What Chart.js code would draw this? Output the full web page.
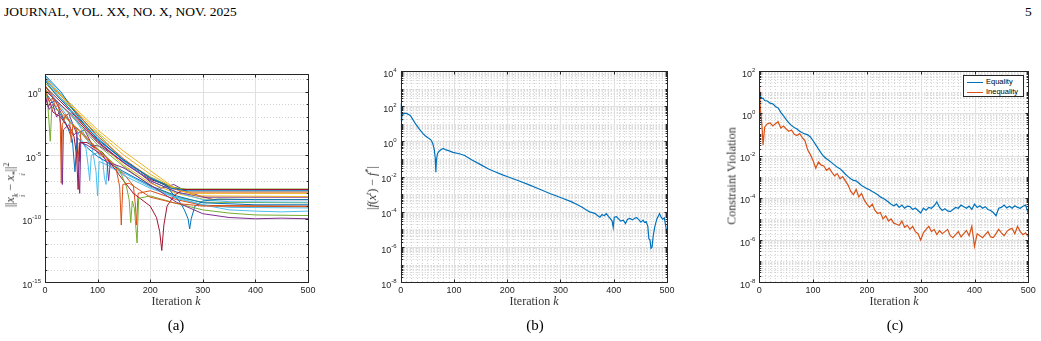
<!DOCTYPE html>
<html lang="en">
<head>
<meta charset="UTF-8">
<title>Convergence results</title>
<style>
    body, html {
        margin: 0;
        padding: 0;
        background: #fff;
    }

    #page {
        position: relative;
        width: 1041px;
        height: 341px;
        overflow: hidden;
        font-family: "Liberation Serif", "Times New Roman", serif;
        color: #000;
    }

    canvas {
        position: absolute;
        top: 60px;
    }

    .hdr {
        position: absolute;
        top: 4px;
        font-size: 13.5px;
        white-space: nowrap;
    }

    .ylab {
        position: absolute;
        white-space: nowrap;
        transform: translate(-50%, -50%) rotate(-90deg);
        font-size: 12px;
        font-weight: normal;
        color: #333;
    }

    .xlab {
        position: absolute;
        top: 294px;
        white-space: nowrap;
        transform: translateX(-50%);
        font-size: 12px;
        color: #333;
    }

    .cap {
        position: absolute;
        top: 317px;
        transform: translateX(-50%);
        font-size: 15px;
    }

    .ss {
        display: inline-flex;
        flex-direction: column;
        font-size: 8px;
        line-height: 7px;
        vertical-align: -4px;
        font-style: italic;
    }

    sup { font-size: 8px; }

    .legend {
        position: absolute;
        left: 963px;
        top: 75px;
        width: 59px;
        height: 20px;
        border: 1px solid #262626;
        background: #fff;
        font-family: "Liberation Sans", Arial, sans-serif;
        font-size: 7.5px;
        color: #000;
    }

    .legend div {
        height: 9px;
        line-height: 9px;
        white-space: nowrap;
        margin-top: 1px;
    }

    .legend span.ln {
        display: inline-block;
        width: 16px;
        height: 0;
        margin: 0 3px 0 3px;
        vertical-align: middle;
        border-top: 1.3px solid;
    }
</style>
</head>
<body>
<div id="page">
    <div class="hdr" style="left:4px">JOURNAL, VOL. XX, NO. X, NOV. 2025</div>
    <div class="hdr" style="left:1025px">5</div>

    <canvas id="chartA" width="350" height="260" style="left:0px"></canvas>
    <canvas id="chartB" width="350" height="260" style="left:350px"></canvas>
    <canvas id="chartC" width="341" height="260" style="left:700px"></canvas>

    <div class="ylab" style="left:14px; top:185px">||<i>x</i><span class="ss"><span>k</span><span>i</span></span> &minus; <i>x</i><span class="ss"><span>*</span><span>i</span></span>||<sup>2</sup></div>
    <div class="ylab" style="left:372px; top:188px">|<i>f</i>(<i>x</i><sup><i>t</i></sup>) &minus; <i>f</i><sup>*</sup>|</div>
    <div class="ylab" style="left:732px; top:176px">Constraint Violation</div>

    <div class="xlab" style="left:176px">Iteration <i>k</i></div>
    <div class="xlab" style="left:534px">Iteration <i>k</i></div>
    <div class="xlab" style="left:894px">Iteration <i>k</i></div>

    <div class="cap" style="left:176px">(a)</div>
    <div class="cap" style="left:535px">(b)</div>
    <div class="cap" style="left:895px">(c)</div>

    <div class="legend">
        <div><span class="ln" style="color:#0072BD"></span>Equality</div>
        <div><span class="ln" style="color:#D95319"></span>Inequality</div>
    </div>
</div>

<script src="https://cdn.jsdelivr.net/npm/chart.js"></script>
<script>
    const iterTicks = [0, 100, 200, 300, 400, 500];
    const matlabColors = ['#0072BD', '#D95319', '#EDB120', '#7E2F8E', '#77AC30', '#4DBEEE', '#A2142F'];

    // (a) per-agent distance to optimum, [iteration, value]
    const a01 = [[0, 7.9], [20, 0.63], [50, 0.032], [100, 2.0e-4], [150, 4.0e-6], [200, 1.6e-7], [240, 2.5e-8], [270, 1.6e-8], [500, 1.6e-8]];
    const a02 = [[0, 2.0], [8, 0.16], [14, 0.32], [20, 0.063], [26, 0.1], [29, 3.2e-3], [31, 6.3e-8], [33, 2.5e-3], [40, 0.016], [47, 4.0e-3], [50, 1e-4], [53, 2.5e-3], [65, 1e-3], [80, 2.5e-4], [100, 2.5e-5], [120, 5.0e-6], [135, 1e-6], [142, 3.2e-8], [145, 3.2e-11], [148, 5.0e-8], [160, 6.3e-8], [200, 5.0e-9], [250, 1.6e-9], [300, 1e-9], [500, 8.9e-10]];
    const a03 = [[0, 12.6], [30, 0.5], [100, 6.3e-4], [150, 1e-5], [200, 3.2e-7], [250, 2.0e-8], [280, 1e-8], [500, 1e-8]];
    const a04 = [[0, 0.5], [8, 0.04], [15, 0.1], [22, 0.01], [27, 0.025], [31, 1e-3], [33, 5e-8], [35, 1e-3], [45, 2.5e-3], [55, 4e-4], [60, 6.3e-4], [64, 3.2e-7], [66, 1e-8], [68, 1e-4], [80, 6.3e-5], [95, 2.5e-5], [110, 1e-5], [118, 2.5e-6], [121, 1e-7], [124, 2.5e-6], [150, 1e-6], [180, 1.6e-7], [210, 2.5e-8], [250, 2.0e-9], [300, 2.5e-10], [350, 1.26e-10], [400, 1e-10], [450, 1.12e-10], [500, 1e-10]];
    const a05 = [[0, 4.0], [5, 0.16], [10, 1.26e-4], [13, 0.063], [25, 0.032], [50, 3.2e-3], [100, 3.2e-5], [140, 1e-6], [155, 3.2e-8], [160, 3.2e-9], [163, 5e-11], [166, 2.5e-9], [170, 6.3e-10], [173, 1.6e-11], [175, 1.26e-12], [178, 4e-9], [200, 6.3e-9], [250, 1.6e-9], [300, 5e-10], [350, 2.8e-10], [400, 2e-10], [500, 1.8e-10]];
    const a06 = [[0, 10], [40, 0.1], [70, 1e-3], [90, 3.2e-5], [97, 5e-7], [100, 6.3e-9], [103, 3.2e-6], [120, 1.6e-6], [150, 2.5e-7], [200, 2.5e-8], [250, 5e-9], [300, 1.26e-9], [350, 5e-10], [400, 4e-10], [450, 3.5e-10], [500, 4e-10]];
    const a07 = [[0, 0.63], [6, 0.063], [10, 0.126], [15, 0.025], [30, 0.01], [50, 6.3e-4], [55, 3.2e-4], [60, 1e-5], [63, 2e-8], [66, 1e-4], [80, 1e-4], [110, 1.6e-5], [140, 3.2e-7], [168, 1e-8], [200, 1e-9], [212, 1.26e-10], [218, 1e-11], [222, 3.2e-13], [226, 3.2e-11], [232, 1e-9], [245, 6.3e-9], [262, 2e-8], [500, 2e-8]];
    const a08 = [[0, 20], [30, 1], [60, 0.016], [100, 1.6e-4], [150, 4e-6], [200, 1.6e-7], [230, 5e-8], [240, 1.26e-8], [255, 2.5e-9], [265, 5e-10], [272, 1e-10], [275, 1.6e-11], [278, 1e-10], [285, 1e-9], [300, 2.5e-9], [330, 3.5e-9], [400, 3.2e-9], [500, 3.2e-9]];
    const a09 = [[0, 10], [50, 0.063], [100, 3.2e-4], [150, 5e-6], [200, 1.6e-7], [240, 2.5e-8], [270, 1.26e-8], [500, 1.26e-8]];
    const a10 = [[0, 7.9], [50, 0.1], [100, 1e-3], [150, 2e-5], [200, 6.3e-7], [250, 2e-8], [290, 6.3e-9], [500, 5.6e-9]];
    const a11 = [[0, 1.26], [50, 0.016], [100, 1e-4], [150, 2.5e-6], [200, 1e-7], [250, 1.26e-8], [300, 5e-9], [500, 5e-9]];
    const a12 = [[0, 5], [50, 0.05], [85, 1.6e-3], [100, 5e-4], [149, 4e-6], [200, 2e-7], [240, 3.2e-8], [265, 2.2e-8], [500, 2.2e-8]];
    const a13 = [[0, 15.8], [50, 0.079], [100, 2.5e-4], [150, 3.2e-6], [200, 1e-7], [250, 1.26e-8], [300, 3.2e-9], [350, 2.2e-9], [500, 2e-9]];
    const a14 = [[0, 2.5], [50, 0.025], [100, 1.26e-4], [150, 2.5e-6], [200, 1.26e-7], [250, 2.5e-8], [270, 2e-8], [500, 2e-8]];
    const a15 = [[0, 1], [20, 0.063], [40, 3.2e-3], [52, 1.6e-4], [57, 5e-7], [61, 2.5e-4], [80, 4e-5], [100, 7.9e-6], [150, 5e-7], [200, 4e-8], [250, 6.3e-9], [300, 1.8e-9], [400, 1.26e-9], [500, 1.26e-9]];
    const a16 = [[0, 3.2], [20, 0.16], [40, 0.01], [60, 1e-3], [65, 3.2e-6], [68, 6.3e-4], [100, 1.6e-5], [150, 3.2e-7], [168, 4e-8], [172, 1e-9], [174, 3.2e-11], [177, 1e-8], [200, 1.6e-8], [250, 3.2e-9], [300, 1.12e-9], [500, 1e-9]];
    const a17 = [[0, 3.2], [30, 0.063], [60, 1e-3], [78, 3.2e-5], [82, 1.6e-6], [85, 1e-7], [88, 1e-5], [100, 1.6e-5], [110, 3.2e-6], [113, 1.6e-7], [116, 5e-8], [119, 2.5e-6], [130, 1e-6], [150, 4e-7], [200, 3.2e-8], [250, 4e-9], [300, 1.26e-9], [350, 7.9e-10], [500, 7.1e-10]];
    const a18 = [[0, 1.6], [50, 0.0126], [100, 6.3e-5], [150, 1.26e-6], [200, 4e-8], [250, 5e-9], [300, 2e-9], [500, 1.8e-9]];
    const a19 = [[0, 5], [50, 0.032], [100, 1.26e-4], [150, 1.6e-6], [200, 6.3e-8], [250, 1e-8], [300, 3.5e-9], [500, 3.2e-9]];
    const a20 = [[0, 1], [10, 0.126], [20, 0.2], [35, 7.9e-3], [45, 0.02], [60, 5e-4], [75, 1e-3], [90, 6.3e-5], [105, 5e-5], [130, 1e-5], [150, 3.2e-6], [175, 6.3e-7], [200, 7.9e-8], [220, 2.5e-8], [245, 5e-8], [270, 1.26e-8], [320, 3.2e-9], [500, 3.2e-9]];
    const seriesA = [a01, a02, a03, a04, a05, a06, a07, a08, a09, a10, a11, a12, a13, a14, a15, a16, a17, a18, a19, a20];
    const colorIdxA = [0, 1, 2, 3, 4, 5, 6, 0, 1, 2, 3, 4, 5, 6, 0, 1, 5, 4, 2, 3];
    const yTicksA = [1e0, 1e-5, 1e-10, 1e-15];

    // (b) objective gap
    const iterB = [0, 1, 2, 4, 8, 12, 18, 27, 35, 42, 46, 51, 54, 57, 60, 63, 65, 66, 67, 69, 72, 76, 80, 85, 90, 98, 110, 120, 133, 150, 165, 177, 190, 201, 220, 240, 260, 280, 300, 320, 330, 340, 350, 355, 360, 365, 370, 374, 378, 382, 386, 390, 394, 397, 399, 401, 405, 409, 413, 418, 422, 426, 430, 435, 440, 443, 447, 451, 455, 458, 461, 464, 466, 468, 470, 472, 474, 477, 481, 484, 486, 489, 492, 495, 497, 499, 500];
    const gapB = [150, 15, 25, 35, 40, 38, 30, 11, 5, 2.8, 2.1, 1.6, 1.4, 1.2, 0.8, 0.35, 0.1, 0.018, 0.08, 0.2, 0.28, 0.35, 0.4, 0.33, 0.3, 0.24, 0.2, 0.16, 0.09, 0.048, 0.027, 0.019, 0.013, 0.0098, 0.006, 0.0035, 0.002, 0.0011, 6.6e-4, 3.8e-4, 2.7e-4, 1.9e-4, 1.2e-4, 1.0e-4, 9e-5, 8e-5, 6e-5, 5e-5, 7e-5, 6e-5, 8e-5, 5.5e-5, 4e-5, 3e-5, 1.3e-5, 5e-5, 5.3e-5, 4e-5, 3e-5, 3.4e-5, 2.2e-5, 3.8e-5, 4.2e-5, 3.5e-5, 4.5e-5, 4.7e-5, 3.6e-5, 2.6e-5, 3.4e-5, 2.5e-5, 2.8e-5, 1.5e-5, 3e-6, 2.5e-6, 8.5e-7, 1e-6, 4e-6, 1.4e-5, 4e-5, 6e-5, 8e-5, 5e-5, 3.8e-5, 4.5e-5, 2e-5, 9e-6, 7e-6];
    const yTicksB = [1e4, 1e2, 1e0, 1e-2, 1e-4, 1e-6, 1e-8];

    // (c) constraint violation
    const iterC = [0, 2, 5, 7, 10, 15, 20, 25, 30, 35, 40, 45, 50, 55, 60, 65, 70, 75, 80, 85, 90, 95, 100, 105, 110, 115, 120, 125, 130, 135, 140, 145, 150, 155, 160, 165, 170, 175, 180, 185, 190, 195, 200, 205, 210, 215, 220, 225, 230, 235, 240, 245, 250, 255, 260, 265, 270, 275, 280, 285, 290, 295, 300, 305, 310, 315, 320, 325, 330, 335, 340, 345, 350, 355, 360, 365, 370, 375, 380, 385, 390, 395, 400, 405, 410, 415, 420, 425, 430, 435, 440, 445, 450, 455, 460, 465, 470, 475, 480, 485, 490, 495, 500];
    const equalityC = [8.9, 6.3, 5.0, 5.2, 4.0, 3.8, 3.0, 2.8, 2.1, 1.8, 1.1, 0.76, 0.5, 0.35, 0.26, 0.21, 0.18, 0.14, 0.12, 0.105, 0.095, 0.076, 0.05, 0.032, 0.02, 0.013, 0.0089, 0.0071, 0.0056, 0.0045, 0.0035, 0.0028, 0.0024, 0.0018, 0.0013, 1.0e-3, 7.9e-4, 6.6e-4, 6.3e-4, 5.0e-4, 3.8e-4, 3.2e-4, 2.7e-4, 2.4e-4, 2.0e-4, 1.7e-4, 1.4e-4, 1.1e-4, 9.5e-5, 7.9e-5, 6.3e-5, 5.0e-5, 4.2e-5, 5.0e-5, 3.5e-5, 4.5e-5, 3.2e-5, 4.0e-5, 3.8e-5, 2.8e-5, 3.3e-5, 2.5e-5, 1.9e-5, 3.2e-5, 2.6e-5, 3.5e-5, 3.2e-5, 4.2e-5, 6.3e-5, 3.5e-5, 2.5e-5, 3.0e-5, 2.4e-5, 2.2e-5, 2.8e-5, 3.5e-5, 3.2e-5, 4.5e-5, 3.8e-5, 3.2e-5, 4.0e-5, 2.8e-5, 5.0e-5, 3.5e-5, 4.2e-5, 3.2e-5, 3.8e-5, 2.8e-5, 2.5e-5, 2.0e-5, 1.4e-5, 3.2e-5, 3.5e-5, 4.5e-5, 3.3e-5, 4.0e-5, 3.2e-5, 4.2e-5, 3.5e-5, 3.2e-5, 4.0e-5, 4.5e-5, 1.8e-5];
    const inequalityC = [35, 1.6, 0.25, 0.032, 0.22, 0.32, 0.35, 0.25, 0.32, 0.4, 0.2, 0.25, 0.18, 0.14, 0.16, 0.1, 0.089, 0.11, 0.071, 0.05, 0.018, 0.011, 0.0056, 0.0025, 0.005, 0.0035, 0.0032, 0.002, 0.0025, 0.0016, 0.0011, 0.0014, 7.9e-4, 1.0e-3, 6.3e-4, 4.0e-4, 2.0e-4, 1.4e-4, 2.5e-4, 1.1e-4, 1.6e-4, 7.9e-5, 5.0e-5, 3.5e-5, 5.0e-5, 2.5e-5, 1.8e-5, 2.0e-5, 1.0e-5, 1.4e-5, 7.9e-6, 1.0e-5, 6.3e-6, 5.6e-6, 5.0e-6, 7.9e-6, 4.0e-6, 5.0e-6, 3.2e-6, 4.5e-6, 2.5e-6, 2.0e-6, 1.0e-6, 2.2e-6, 3.2e-6, 4.5e-6, 2.5e-6, 3.2e-6, 1.8e-6, 2.8e-6, 2.0e-6, 2.5e-6, 3.2e-6, 1.6e-6, 1.3e-6, 1.8e-6, 2.5e-6, 1.4e-6, 2.0e-6, 2.8e-6, 1.6e-6, 4.5e-6, 5.0e-7, 2.0e-6, 1.6e-6, 1.3e-6, 1.8e-6, 2.5e-6, 1.4e-6, 1.3e-6, 2.0e-6, 3.2e-6, 2.2e-6, 1.6e-6, 2.5e-6, 3.2e-6, 3.5e-6, 2.0e-6, 4.5e-6, 2.5e-6, 1.8e-6, 2.2e-6, 1.4e-6];
    const yTicksC = [1e2, 1e0, 1e-2, 1e-4, 1e-6, 1e-8];

    // minor grid positions for a log axis
    function logMinors(loExp, hiExp, majors, everyDigit) {
        const out = [];
        for (let e = loExp; e < hiExp; e++) {
            const top = everyDigit ? 9 : 1;
            for (let m = 1; m <= top; m++) {
                const v = m * Math.pow(10, e);
                if (!majors.some(t => Math.abs(t - v) / v < 1e-9)) out.push(v);
            }
        }
        return out;
    }

    function linMinors(step) {
        const out = [];
        for (let v = step; v < 500; v += step) {
            if (v % 100 !== 0) out.push(v);
        }
        return out;
    }

    // MATLAB-like box, grid, inward ticks and 10^n labels
    function matlabAxes(o) {
        return {
            id: 'matlabAxes',
            beforeDatasetsDraw(chart) {
                const { ctx, chartArea: a, scales } = chart;
                const px = v => Math.round(scales.x.getPixelForValue(v)) + 0.5;
                const py = v => Math.round(scales.y.getPixelForValue(v)) + 0.5;
                ctx.save();
                ctx.lineWidth = 1;
                ctx.strokeStyle = '#d2d2d2';
                ctx.setLineDash([1, 2]);
                ctx.beginPath();
                o.yMinor.forEach(v => { ctx.moveTo(a.left, py(v)); ctx.lineTo(a.right, py(v)); });
                o.xMinor.forEach(v => { ctx.moveTo(px(v), a.top); ctx.lineTo(px(v), a.bottom); });
                ctx.stroke();
                ctx.setLineDash([]);
                ctx.strokeStyle = '#e0e0e0';
                ctx.beginPath();
                o.yMajor.forEach(v => { ctx.moveTo(a.left, py(v)); ctx.lineTo(a.right, py(v)); });
                iterTicks.forEach(v => { ctx.moveTo(px(v), a.top); ctx.lineTo(px(v), a.bottom); });
                ctx.stroke();
                ctx.restore();
            },
            afterDatasetsDraw(chart) {
                const { ctx, chartArea: a, scales } = chart;
                const px = v => Math.round(scales.x.getPixelForValue(v)) + 0.5;
                const py = v => Math.round(scales.y.getPixelForValue(v)) + 0.5;
                const L = Math.round(a.left) + 0.5, R = Math.round(a.right) + 0.5;
                const T = Math.round(a.top) + 0.5, B = Math.round(a.bottom) + 0.5;
                ctx.save();
                ctx.strokeStyle = '#262626';
                ctx.lineWidth = 1;
                ctx.strokeRect(L, T, R - L, B - T);
                ctx.beginPath();
                iterTicks.forEach(v => {
                    ctx.moveTo(px(v), B); ctx.lineTo(px(v), B - 3);
                    ctx.moveTo(px(v), T); ctx.lineTo(px(v), T + 3);
                });
                o.yMajor.forEach(v => {
                    ctx.moveTo(L, py(v)); ctx.lineTo(L + 3, py(v));
                    ctx.moveTo(R, py(v)); ctx.lineTo(R - 3, py(v));
                });
                o.yMinor.forEach(v => {
                    ctx.moveTo(L, py(v)); ctx.lineTo(L + 1.8, py(v));
                    ctx.moveTo(R, py(v)); ctx.lineTo(R - 1.8, py(v));
                });
                ctx.stroke();

                ctx.fillStyle = '#262626';
                ctx.font = '9px "Liberation Sans", Arial, sans-serif';
                ctx.textAlign = 'center';
                ctx.textBaseline = 'top';
                iterTicks.forEach(v => ctx.fillText(String(v), scales.x.getPixelForValue(v), a.bottom + 4));

                ctx.textAlign = 'left';
                ctx.textBaseline = 'alphabetic';
                o.yMajor.forEach(v => {
                    const exp = String(Math.round(Math.log10(v)));
                    const y = scales.y.getPixelForValue(v);
                    ctx.font = '6px "Liberation Sans", Arial, sans-serif';
                    const ew = ctx.measureText(exp).width;
                    ctx.font = '9px "Liberation Sans", Arial, sans-serif';
                    const bw = ctx.measureText('10').width;
                    const right = a.left - 4;
                    ctx.fillText('10', right - ew - bw, y + 5.5);
                    ctx.font = '6px "Liberation Sans", Arial, sans-serif';
                    ctx.fillText(exp, right - ew, y + 0.5);
                });
                ctx.restore();
            }
        };
    }

    function makeChart(id, datasets, yMin, yMax, pad, axes) {
        return new Chart(document.getElementById(id), {
            type: 'line',
            data: { datasets },
            options: {
                responsive: false,
                animation: false,
                devicePixelRatio: 1,
                layout: { padding: pad },
                plugins: { legend: { display: false }, tooltip: { enabled: false } },
                elements: { point: { radius: 0 }, line: { tension: 0 } },
                scales: {
                    x: { type: 'linear', min: 0, max: 500, display: false },
                    y: { type: 'logarithmic', min: yMin, max: yMax, display: false }
                }
            },
            plugins: [matlabAxes(axes)]
        });
    }

    const toPoints = (xs, ys) => xs.map((k, i) => ({ x: k, y: ys[i] }));

    makeChart('chartA',
        seriesA.map((s, i) => ({
            data: s.map(([k, v]) => ({ x: k, y: v })),
            borderColor: matlabColors[colorIdxA[i]],
            borderWidth: 1,
            fill: false
        })),
        1e-15, 23.4,
        { left: 45, right: 42, top: 14.3, bottom: 37.7 },
        { yMajor: yTicksA, yMinor: logMinors(-15, 2, yTicksA, false), xMinor: [] }
    );

    makeChart('chartB',
        [{ data: toPoints(iterB, gapB), borderColor: matlabColors[0], borderWidth: 1.2, fill: false }],
        1e-8, 1e4,
        { left: 50.7, right: 33, top: 11, bottom: 37.7 },
        { yMajor: yTicksB, yMinor: logMinors(-8, 4, yTicksB, true), xMinor: linMinors(10) }
    );

    makeChart('chartC',
        [
            { data: toPoints(iterC, equalityC), borderColor: matlabColors[0], borderWidth: 1.2, fill: false },
            { data: toPoints(iterC, inequalityC), borderColor: matlabColors[1], borderWidth: 1.2, fill: false }
        ],
        1e-8, 1e2,
        { left: 59.3, right: 12.7, top: 11, bottom: 37.7 },
        { yMajor: yTicksC, yMinor: logMinors(-8, 2, yTicksC, true), xMinor: linMinors(10) }
    );
</script>
</body>
</html>
